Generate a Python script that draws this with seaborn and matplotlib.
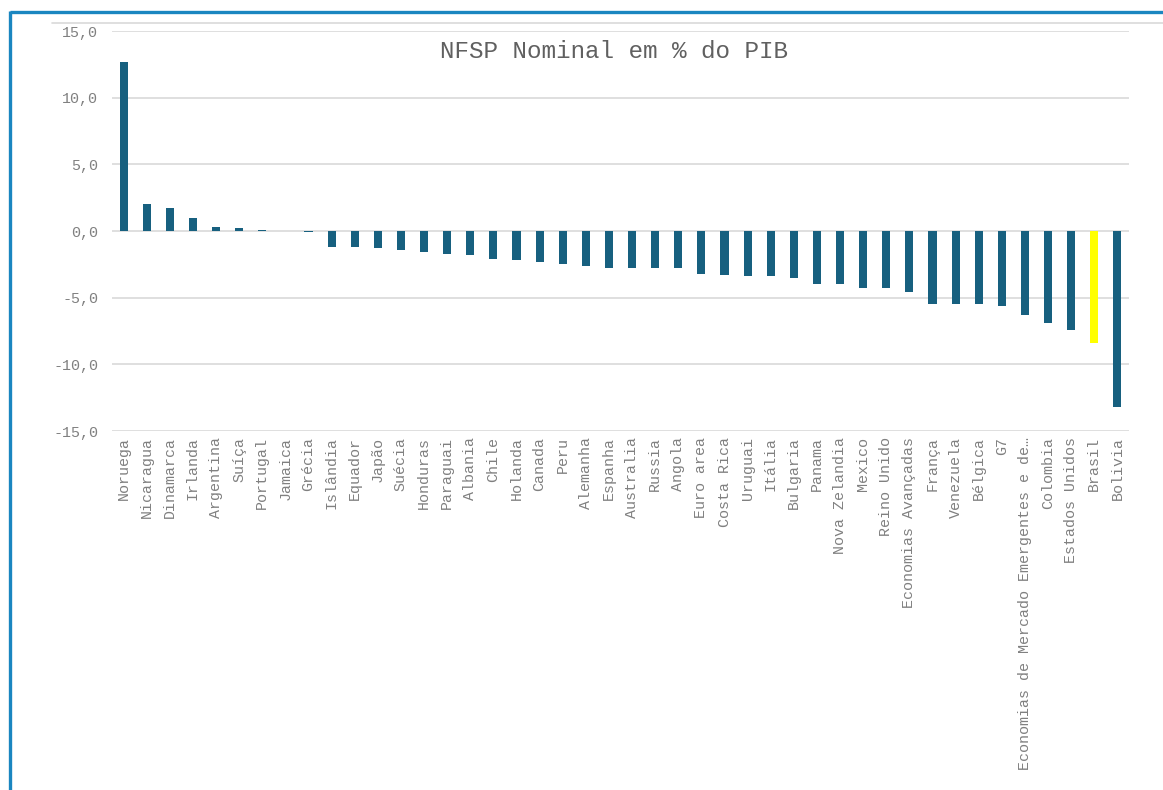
import matplotlib
matplotlib.use("Agg")
import matplotlib.pyplot as plt
from matplotlib.lines import Line2D
from matplotlib.ticker import FuncFormatter
import seaborn as sns

# Nominal public sector borrowing requirement (% of GDP) by country / group
paises = [
    "Noruega", "Nicaragua", "Dinamarca", "Irlanda", "Argentina", "Suíça",
    "Portugal", "Jamaica", "Grécia", "Islândia", "Equador", "Japão", "Suécia",
    "Honduras", "Paraguai", "Albania", "Chile", "Holanda", "Canada", "Peru",
    "Alemanha", "Espanha", "Australia", "Russia", "Angola", "Euro area",
    "Costa Rica", "Uruguai", "Itália", "Bulgaria", "Panama", "Nova Zelandia",
    "Mexico", "Reino Unido", "Economias Avançadas", "França", "Venezuela",
    "Bélgica", "G7", "Economias de Mercado Emergentes e de…", "Colombia",
    "Estados Unidos", "Brasil", "Bolivia",
]
nfsp = [
    12.7, 2.0, 1.7, 1.0, 0.3, 0.2,
    0.1, 0.0, -0.1, -1.2, -1.2, -1.3, -1.4,
    -1.6, -1.7, -1.8, -2.1, -2.2, -2.3, -2.5,
    -2.6, -2.8, -2.8, -2.8, -2.8, -3.2,
    -3.3, -3.4, -3.4, -3.5, -4.0, -4.0,
    -4.3, -4.3, -4.6, -5.5, -5.5,
    -5.5, -5.6, -6.3, -6.9,
    -7.4, -8.4, -13.2,
]
destaque = "Brasil"
y_ticks = [-15, -10, -5, 0, 5, 10, 15]

cor_barra = "#17607F"
cor_destaque = "#FFFF00"
cores = [cor_destaque if p == destaque else cor_barra for p in paises]

sns.set_theme(style="white")
plt.rcParams["font.family"] = ["Liberation Mono", "DejaVu Sans Mono"]

W, H = 1163, 790
fig = plt.figure(figsize=(W / 100, H / 100), dpi=100)
ax = fig.add_axes([112 / W, 1 - 431 / H, (1129 - 112) / W, (431 - 31) / H])

sns.barplot(x=paises, y=nfsp, hue=paises, palette=cores, legend=False,
            width=0.35, saturation=1, ax=ax, linewidth=0)

ax.set_ylim(-15, 15)
ax.set_xlim(-0.5, len(paises) - 0.5)
ax.set_yticks(y_ticks)
ax.yaxis.set_major_formatter(FuncFormatter(lambda v, _: f"{v:.1f}".replace(".", ",")))
ax.grid(axis="y", color="#D9D9D9", linewidth=1.2)
ax.set_axisbelow(True)
for s in ax.spines.values():
    s.set_visible(False)

ax.tick_params(axis="y", length=0, pad=10, labelsize=10.8, labelcolor="#808080")
ax.tick_params(axis="x", length=0, pad=4, labelsize=10.8, labelcolor="#808080")
for lab in ax.get_xticklabels():
    lab.set_rotation(90)
    lab.set_va("top")
    lab.set_ha("center")

ax.text(0.494, 0.95, "NFSP Nominal em % do PIB", transform=ax.transAxes,
        ha="center", va="center", fontsize=17.5, color="#606060")

# Frame around the chart object
px = lambda x: x / W
py = lambda y: 1 - y / H
fig.add_artist(Line2D([px(52), px(W)], [py(23), py(23)], color="#D9D9D9", lw=1.2))
fig.add_artist(Line2D([px(10), px(W)], [py(11.5), py(11.5)], color="#1A86C0", lw=2.4,
                      solid_capstyle="butt"))
fig.add_artist(Line2D([px(10), px(10)], [py(10.5), py(H)], color="#1A86C0", lw=2.4,
                      solid_capstyle="butt"))

fig.savefig("out.png", dpi=100, facecolor="white")
